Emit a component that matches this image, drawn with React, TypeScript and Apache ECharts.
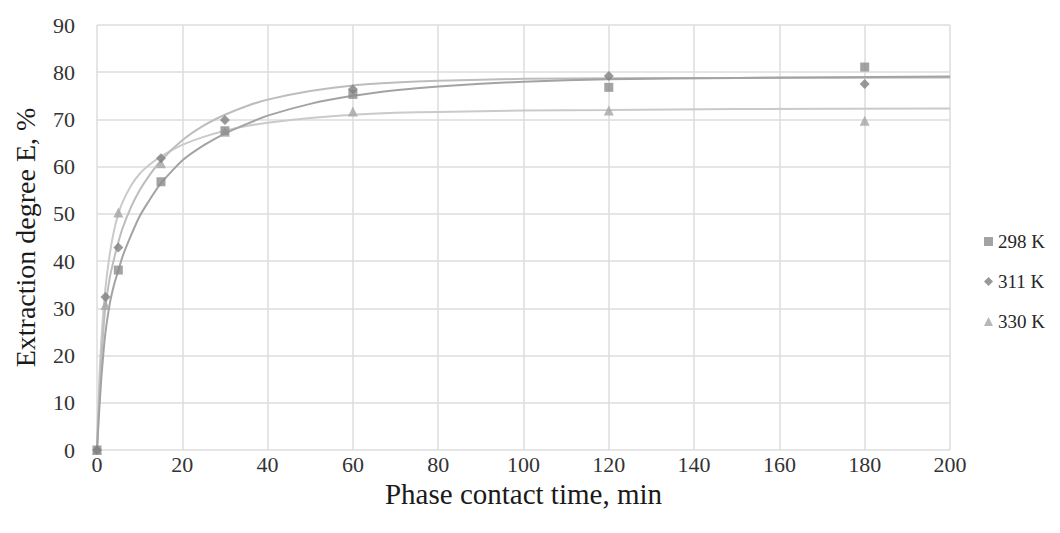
import React, { useEffect, useRef } from "react";
import * as echarts from "echarts";

// Experimental points
const times298 = [0, 5, 15, 30, 60, 120, 180];
const values298 = [0, 38.1, 56.8, 67.6, 75.3, 76.8, 81.1];
const times311 = [0, 2, 5, 15, 30, 60, 120, 180];
const values311 = [0, 32.4, 42.9, 61.8, 69.9, 76.4, 79.2, 77.5];
const times330 = [0, 2, 5, 15, 30, 60, 120, 180];
const values330 = [0, 30.7, 50.3, 60.7, 67.4, 71.7, 71.9, 69.7];

// Trend curves
const fitTimes = [0, 0.5, 1, 1.5, 2, 3, 4, 5, 6, 8, 10, 12, 15, 20, 25, 30, 35, 40, 50, 60, 70, 80, 100, 120, 150, 200];
const fit298 = [0, 8, 15, 20.5, 25, 31, 35, 38, 41, 45.5, 49.5, 52.5, 56.5, 61.3, 64.5, 67, 69, 70.8, 73.3, 75, 76.2, 77, 78, 78.5, 78.8, 79.1];
const fit311 = [0, 10, 19, 25.5, 30.5, 36.5, 40.5, 44, 47, 51.5, 55, 57.8, 61.3, 65.6, 68.7, 71, 72.8, 74.2, 76, 77.2, 77.8, 78.2, 78.6, 78.7, 78.8, 78.9];
const fit330 = [0, 14, 23, 29.5, 34.5, 41.5, 46.5, 50, 52.5, 56, 58.5, 60.2, 62.2, 64.6, 66.3, 67.6, 68.6, 69.3, 70.3, 71, 71.4, 71.6, 71.9, 72, 72.2, 72.3];

const seriesNames = ["298 K", "311 K", "330 K"];
const xTicks = { min: 0, max: 200, interval: 20 };
const yTicks = { min: 0, max: 90, interval: 10 };

const pair = (xs: number[], ys: number[]) => xs.map((x, i) => [x, ys[i]]);

const FONT = "Liberation Serif";

export default function App() {
  const ref = useRef<HTMLDivElement>(null);
  useEffect(() => {
    document.body.style.margin = "0";
    const chart = echarts.init(ref.current!, null, { renderer: "svg" });
    const lineBase = {
      type: "line" as const,
      showSymbol: false,
      symbol: "none",
      smooth: 0.2,
      silent: true,
      z: 2,
    };
    const scatterBase = { type: "scatter" as const, z: 3 };
    chart.setOption({
      animation: false,
      backgroundColor: "#ffffff",
      textStyle: { fontFamily: FONT },
      grid: {
        left: 97,
        right: 110,
        top: 25,
        bottom: 83,
        containLabel: false,
        outerBoundsMode: "none",
      },
      legend: {
        orient: "vertical",
        left: 979,
        top: 227,
        itemWidth: 9,
        itemHeight: 9,
        itemGap: 21,
        data: seriesNames,
        textStyle: { fontFamily: FONT, fontSize: 19, color: "#262626" },
      },
      xAxis: {
        type: "value",
        ...xTicks,
        name: "Phase contact time, min",
        nameLocation: "middle",
        nameGap: 29,
        nameMoveOverlap: false,
        nameTextStyle: { fontFamily: FONT, fontSize: 29, color: "#1a1a1a" },
        axisLine: { show: false },
        axisTick: { show: false },
        axisLabel: { fontFamily: FONT, fontSize: 22, color: "#333333", margin: 3 },
        splitLine: { show: true, lineStyle: { color: "#dcdcdc", width: 1.5 } },
      },
      yAxis: {
        type: "value",
        ...yTicks,
        name: "Extraction degree E, %",
        nameLocation: "middle",
        nameGap: 58,
        nameMoveOverlap: false,
        nameTextStyle: { fontFamily: FONT, fontSize: 28, color: "#1a1a1a" },
        axisLine: { show: false },
        axisTick: { show: false },
        axisLabel: { fontFamily: FONT, fontSize: 22, color: "#333333", margin: 22 },
        splitLine: { show: true, lineStyle: { color: "#dcdcdc", width: 1.5 } },
      },
      series: [
        { ...lineBase, name: "fit330", data: pair(fitTimes, fit330), lineStyle: { color: "#cacaca", width: 2 } },
        { ...lineBase, name: "fit311", data: pair(fitTimes, fit311), lineStyle: { color: "#bdbdbd", width: 2 } },
        { ...lineBase, name: "fit298", data: pair(fitTimes, fit298), lineStyle: { color: "#a3a3a3", width: 2 } },
        {
          ...scatterBase,
          name: seriesNames[2],
          symbol: "triangle",
          symbolSize: 10,
          data: pair(times330, values330),
          itemStyle: { color: "#a5a5a5" },
        },
        {
          ...scatterBase,
          name: seriesNames[0],
          symbol: "rect",
          symbolSize: 9,
          data: pair(times298, values298),
          itemStyle: { color: "#8c8c8c" },
        },
        {
          ...scatterBase,
          name: seriesNames[1],
          symbol: "diamond",
          symbolSize: 10,
          data: pair(times311, values311),
          itemStyle: { color: "#7f7f7f" },
        },
      ],
    });
    return () => chart.dispose();
  }, []);
  return <div ref={ref} style={{ width: 1060, height: 533 }} />;
}
